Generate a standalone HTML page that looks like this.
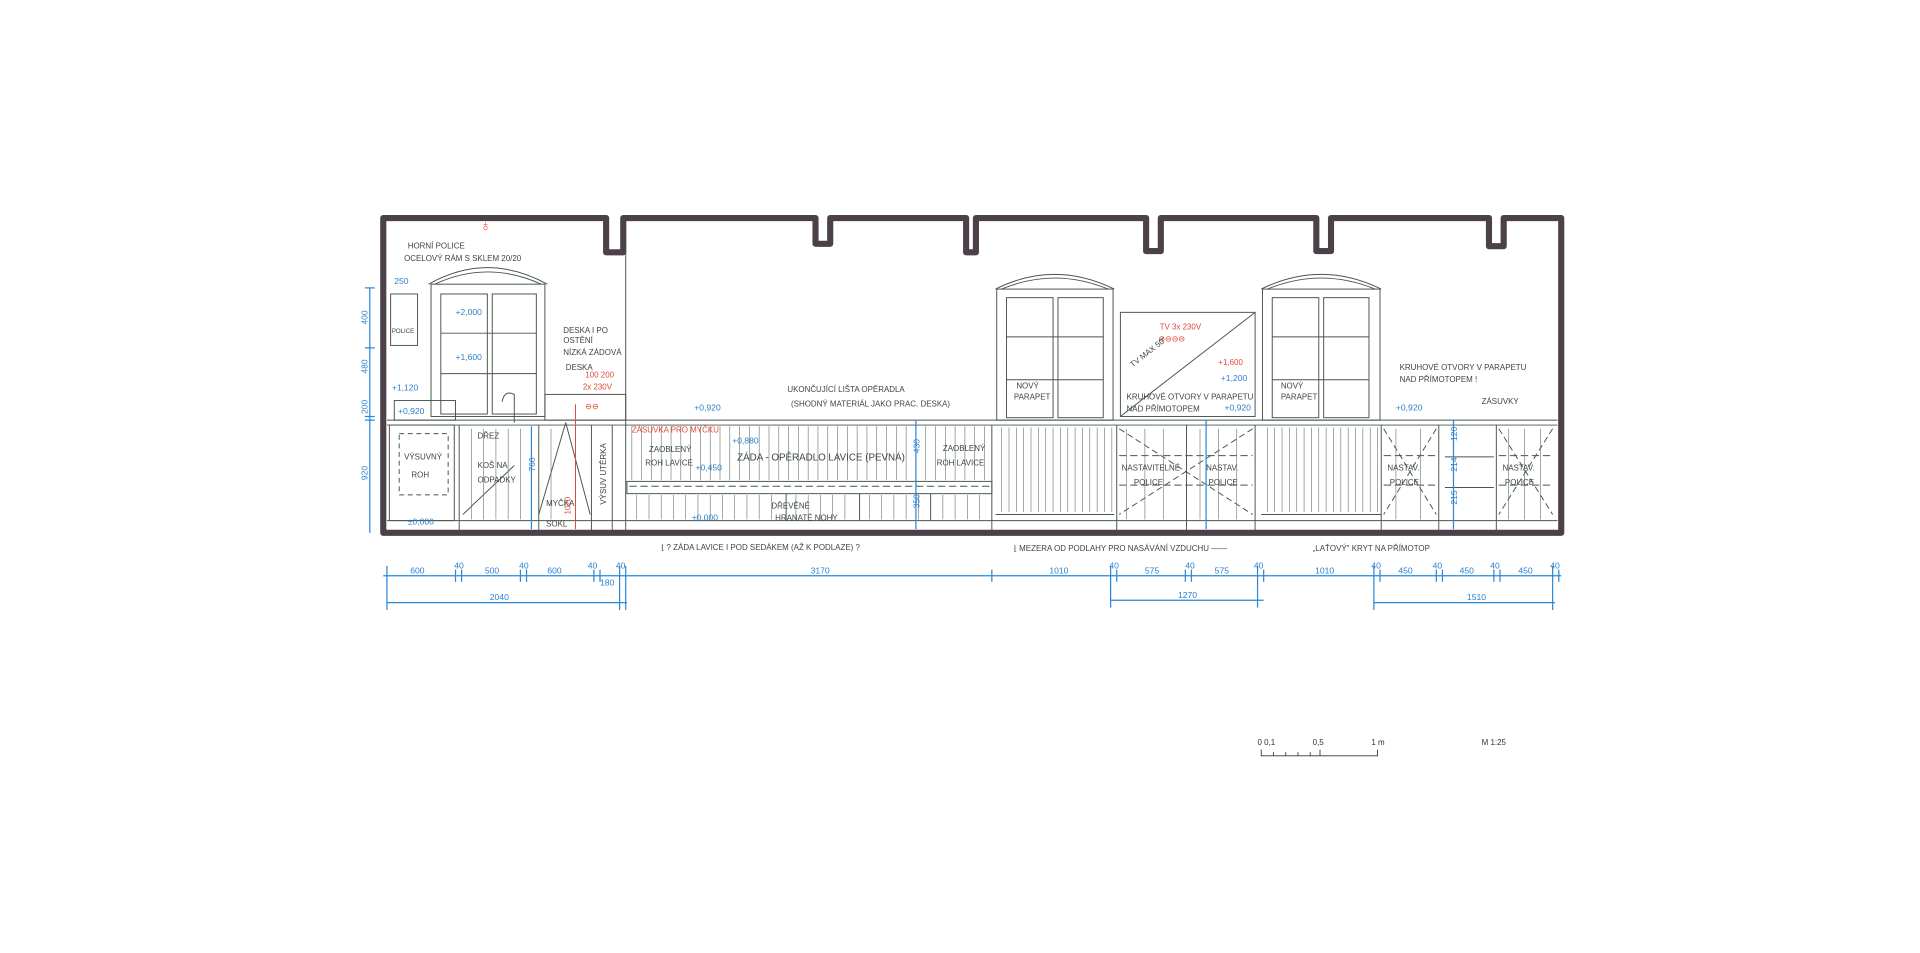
<!DOCTYPE html>
<html><head><meta charset="utf-8"><style>
html,body{margin:0;padding:0;background:#fff;width:1920px;height:953px;overflow:hidden}
svg{display:block}
text{font-family:"Liberation Sans",sans-serif}
.k{fill:#3d4640;font-size:6.5px}
.b{fill:#2a7fd0;font-size:7px}
.r{fill:#e0493a;font-size:6.5px}
</style></head><body>
<svg width="1920" height="953" viewBox="0 0 1568 778" preserveAspectRatio="none" xmlns="http://www.w3.org/2000/svg">
<!-- walls -->
<path d="M313 435 L313 178 L495 178 L495 206 L509 206 L509 178 L666 178 L666 199 L678 199 L678 178 L789 178 L789 206 L797 206 L797 178 L936 178 L936 205 L948 205 L948 178 L1075 178 L1075 205 L1087 205 L1087 178 L1216 178 L1216 201 L1228 201 L1228 178 L1275 178 L1275 435 Z" fill="none" stroke="#4c4049" stroke-width="5" stroke-linejoin="round"/>
<g stroke="#4a564e" stroke-width="0.8" fill="none">
<line x1="511" y1="205" x2="511" y2="433"/>
<!-- counter -->
<line x1="316" y1="343" x2="1272" y2="343"/>
<line x1="316" y1="347" x2="1272" y2="347"/>
<line x1="316" y1="425" x2="1272" y2="425"/>
<!-- window1 -->
<path d="M350 232 Q398 205 447 232"/><path d="M355 232 Q398 212 442 232"/>
<rect x="352" y="232" width="93" height="108"/>
<rect x="360" y="240" width="38" height="98"/><rect x="402" y="240" width="36" height="98"/>
<line x1="360" y1="272" x2="438" y2="272"/><line x1="360" y1="305" x2="438" y2="305"/>
<!-- window2 -->
<path d="M813 236 Q861 212 910 236"/><path d="M818 236 Q861 218 905 236"/>
<rect x="814" y="236" width="95" height="107"/>
<rect x="822" y="243" width="38" height="98"/><rect x="864" y="243" width="37" height="98"/>
<line x1="822" y1="275" x2="901" y2="275"/><line x1="822" y1="310" x2="901" y2="310"/>
<!-- window3 -->
<path d="M1030 236 Q1079 212 1128 236"/><path d="M1035 236 Q1079 218 1123 236"/>
<rect x="1031" y="236" width="96" height="107"/>
<rect x="1039" y="243" width="38" height="98"/><rect x="1081" y="243" width="37" height="98"/>
<line x1="1039" y1="275" x2="1118" y2="275"/><line x1="1039" y1="310" x2="1118" y2="310"/>
<!-- TV -->
<rect x="915" y="255" width="110" height="85"/><line x1="915" y1="340" x2="1025" y2="255"/>
<!-- left cabinets -->
<rect x="318" y="347" width="53" height="78"/>
<rect x="322" y="327" width="50" height="16"/>
<rect x="319" y="240" width="22" height="42"/>
<line x1="375" y1="347" x2="375" y2="433"/><line x1="440" y1="347" x2="440" y2="433"/>
<line x1="483" y1="347" x2="483" y2="433"/><line x1="500" y1="347" x2="500" y2="433"/>
<rect x="445" y="322" width="66" height="21"/>
<line x1="440" y1="420" x2="462" y2="345"/><line x1="462" y1="345" x2="482" y2="420"/>
<line x1="378" y1="420" x2="420" y2="380"/>
<rect x="326" y="354" width="40" height="50" stroke-dasharray="4 3"/>
<path d="M410 328 Q412 318 420 322 L420 345"/>
<!-- bench -->
<rect x="512" y="393" width="298" height="10"/>
<line x1="514" y1="397" x2="808" y2="397" stroke-dasharray="6 3"/>
<line x1="642" y1="403" x2="642" y2="425"/><line x1="702" y1="403" x2="702" y2="425"/><line x1="760" y1="403" x2="760" y2="425"/>
<line x1="810" y1="347" x2="810" y2="433"/>
<!-- radiators -->
<line x1="813" y1="420" x2="910" y2="420"/><line x1="1030" y1="420" x2="1128" y2="420"/>
<line x1="912" y1="347" x2="912" y2="433"/><line x1="969" y1="347" x2="969" y2="433"/><line x1="1025" y1="347" x2="1025" y2="433"/>
<line x1="914" y1="350" x2="1023" y2="420" stroke-dasharray="5 3"/><line x1="1023" y1="350" x2="914" y2="420" stroke-dasharray="5 3"/>
<line x1="1128" y1="347" x2="1128" y2="433"/><line x1="1175" y1="347" x2="1175" y2="433"/><line x1="1222" y1="347" x2="1222" y2="433"/>
<line x1="1130" y1="350" x2="1173" y2="420" stroke-dasharray="5 3"/><line x1="1173" y1="350" x2="1130" y2="420" stroke-dasharray="5 3"/>
<line x1="1268" y1="350" x2="1224" y2="420" stroke-dasharray="5 3"/><line x1="1224" y1="350" x2="1268" y2="420" stroke-dasharray="5 3"/>
<line x1="1180" y1="373" x2="1220" y2="373"/><line x1="1180" y1="398" x2="1220" y2="398"/>
<line x1="914" y1="372" x2="1023" y2="372" stroke-dasharray="6 3"/><line x1="914" y1="396" x2="1023" y2="396" stroke-dasharray="6 3"/>
<line x1="1130" y1="372" x2="1173" y2="372" stroke-dasharray="6 3"/><line x1="1130" y1="396" x2="1173" y2="396" stroke-dasharray="6 3"/>
<line x1="1224" y1="372" x2="1268" y2="372" stroke-dasharray="6 3"/><line x1="1224" y1="396" x2="1268" y2="396" stroke-dasharray="6 3"/>
</g>
<g stroke="#6a756d" stroke-width="0.5" id="sl">
<path d="M516 348V392M524 348V392M532 348V392M540 348V392M548 348V392M556 348V392M564 348V392M572 348V392M580 348V392M588 348V392M596 348V392M604 348V392M612 348V392M620 348V392M628 348V392M636 348V392M644 348V392M652 348V392M660 348V392M668 348V392M676 348V392M684 348V392M692 348V392M700 348V392M708 348V392M716 348V392M724 348V392M732 348V392M740 348V392M748 348V392M756 348V392M764 348V392M772 348V392M780 348V392M788 348V392M796 348V392M804 348V392"/>
<path d="M520 404V424M530 404V424M540 404V424M550 404V424M560 404V424M570 404V424M580 404V424M590 404V424M600 404V424M610 404V424M620 404V424M630 404V424M650 404V424M660 404V424M670 404V424M680 404V424M690 404V424M710 404V424M720 404V424M730 404V424M740 404V424M750 404V424M770 404V424M780 404V424M790 404V424M800 404V424"/>
<path d="M818 349V418M824 349V418M830 349V418M836 349V418M842 349V418M848 349V418M854 349V418M860 349V418M866 349V418M872 349V418M878 349V418M884 349V418M890 349V418M896 349V418M902 349V418M908 349V418"/>
<path d="M1035 349V418M1041 349V418M1047 349V418M1053 349V418M1059 349V418M1065 349V418M1071 349V418M1077 349V418M1083 349V418M1089 349V418M1095 349V418M1101 349V418M1107 349V418M1113 349V418M1119 349V418M1125 349V418"/>
<path d="M385 350V424M395 350V424M405 350V424M415 350V424M425 350V424M450 350V424M470 350V424M920 350V424M935 350V424M950 350V424M980 350V424M995 350V424M1010 350V424M1140 350V424M1160 350V424M1232 350V424M1245 350V424M1258 350V424"/>
</g>
<!-- blue dims -->
<g stroke="#2a88d8" stroke-width="1" fill="none">
<line x1="313" y1="470" x2="1275" y2="470"/>
<line x1="316" y1="492" x2="512" y2="492"/><line x1="907" y1="490" x2="1032" y2="490"/><line x1="1122" y1="492" x2="1270" y2="492"/>
<path d="M316 462V498M372 465V475M377 465V475M425 465V475M430 465V475M485 465V475M490 465V475M506 462V498M511 462V498M810 465V475M907 462V496M912 465V475M968 465V475M973 465V475M1027 462V496M1032 465V475M1122 462V498M1127 465V475M1173 465V475M1178 465V475M1220 465V475M1225 465V475M1268 462V498M1273 465V475"/>
<line x1="302" y1="235" x2="302" y2="435"/>
<path d="M298 235H306M298 284H306M298 340H306M298 343H306"/>
<line x1="434" y1="348" x2="434" y2="432"/><line x1="748" y1="343" x2="748" y2="432"/><line x1="985" y1="343" x2="985" y2="432"/><line x1="1187" y1="343" x2="1187" y2="432"/>
<line x1="1026" y1="1" x2="1026" y2="1"/>
</g>
<g class="b">
<text x="335" y="468">600</text><text x="371" y="464">40</text><text x="396" y="468">500</text><text x="424" y="464">40</text><text x="447" y="468">600</text><text x="480" y="464">40</text><text x="503" y="464">40</text><text x="490" y="478">180</text>
<text x="400" y="490">2040</text><text x="662" y="468">3170</text><text x="857" y="468">1010</text>
<text x="906" y="464">40</text><text x="935" y="468">575</text><text x="968" y="464">40</text><text x="992" y="468">575</text><text x="1024" y="464">40</text>
<text x="962" y="488">1270</text><text x="1074" y="468">1010</text>
<text x="1120" y="464">40</text><text x="1142" y="468">450</text><text x="1170" y="464">40</text><text x="1192" y="468">450</text><text x="1217" y="464">40</text><text x="1240" y="468">450</text><text x="1266" y="464">40</text>
<text x="1198" y="490">1510</text>
<text x="322" y="232">250</text><text x="372" y="257">+2,000</text><text x="372" y="294">+1,600</text>
<text x="320" y="319">+1,120</text><text x="325" y="338">+0,920</text><text x="333" y="428">±0,000</text>
<text x="567" y="335">+0,920</text><text x="598" y="362">+0,880</text><text x="568" y="384">+0,450</text><text x="565" y="425">±0,000</text>
<text x="997" y="311">+1,200</text><text x="1000" y="335">+0,920</text><text x="1140" y="335">+0,920</text>
<text transform="translate(300,265) rotate(-90)">400</text><text transform="translate(300,305) rotate(-90)">480</text><text transform="translate(300,338) rotate(-90)">200</text><text transform="translate(300,392) rotate(-90)">920</text>
<text transform="translate(437,385) rotate(-90)">760</text><text transform="translate(751,415) rotate(-90)">350</text><text transform="translate(751,370) rotate(-90)">430</text>
<text transform="translate(1190,360) rotate(-90)">120</text><text transform="translate(1190,385) rotate(-90)">214</text><text transform="translate(1190,412) rotate(-90)">215</text>
</g>
<g class="r">
<text x="392" y="188" font-size="12">♁</text>
<text x="516" y="353">ZÁSUVKA PRO MYČKU</text><text x="478" y="308">100 200</text><text x="476" y="318">2x 230V</text>
<text x="478" y="334">⊖⊖</text>
<text x="947" y="269">TV   3x 230V</text><text x="946" y="279">⊖⊖⊖⊖</text><text x="995" y="298">+1,600</text>
<text transform="translate(466,420) rotate(-90)">1020</text>
</g>
<line x1="470" y1="330" x2="470" y2="432" stroke="#e0493a" stroke-width="0.8"/>
<g class="k">
<text x="333" y="203">HORNÍ POLICE</text><text x="330" y="213">OCELOVÝ RÁM S SKLEM 20/20</text>
<text x="320" y="272" font-size="5">POLICE</text>
<text x="460" y="272">DESKA I PO</text><text x="460" y="280">OSTĚNÍ</text><text x="460" y="290">NÍZKÁ ZÁDOVÁ</text><text x="462" y="302">DESKA</text>
<text x="390" y="358">DŘEZ</text><text x="330" y="375">VÝSUVNÝ</text><text x="336" y="390">ROH</text><text x="390" y="382">KOŠ NA</text><text x="390" y="394">ODPADKY</text>
<text x="446" y="413">MYČKA</text><text x="446" y="430">SOKL</text>
<text transform="translate(495,412) rotate(-90)">VÝSUV UTĚRKA</text>
<text x="530" y="369">ZAOBLENÝ</text><text x="527" y="380">ROH LAVICE</text>
<text x="602" y="376" font-size="8">ZÁDA - OPĚRADLO LAVICE (PEVNÁ)</text>
<text x="770" y="368">ZAOBLENÝ</text><text x="765" y="380">ROH LAVICE</text>
<text x="630" y="415">DŘEVĚNÉ</text><text x="633" y="425">HRANATÉ NOHY</text>
<text x="643" y="320">UKONČUJÍCÍ LIŠTA OPĚRADLA</text><text x="646" y="332">(SHODNÝ MATERIÁL JAKO PRAC. DESKA)</text>
<text x="540" y="449">⌊ ? ZÁDA LAVICE I POD SEDÁKEM (AŽ K PODLAZE) ?</text>
<text x="830" y="317">NOVÝ</text><text x="828" y="326">PARAPET</text><text x="1046" y="317">NOVÝ</text><text x="1046" y="326">PARAPET</text>
<text x="920" y="326">KRUHOVÉ OTVORY V PARAPETU</text><text x="920" y="336">NAD PŘÍMOTOPEM</text>
<text x="1143" y="302">KRUHOVÉ OTVORY V PARAPETU</text><text x="1143" y="312">NAD PŘÍMOTOPEM !</text>
<text x="1210" y="330">ZÁSUVKY</text>
<text transform="translate(925,300) rotate(-38)">TV  MAX 50"</text>
<text x="916" y="384">NASTAVITELNÉ</text><text x="926" y="396">POLICE</text><text x="985" y="384">NASTAV.</text><text x="987" y="396">POLICE</text>
<text x="1133" y="384">NASTAV.</text><text x="1135" y="396">POLICE</text><text x="1227" y="384">NASTAV.</text><text x="1229" y="396">POLICE</text>
<text x="828" y="450">⌊ MEZERA OD PODLAHY PRO NASÁVÁNÍ VZDUCHU ——</text>
<text x="1072" y="450">„LAŤOVÝ" KRYT NA PŘÍMOTOP</text>
</g>
<!-- scale bar -->
<g stroke="#333" stroke-width="0.7" fill="none">
<path d="M1030 612V617H1125V612M1040 614V617M1050 614V617M1060 614V617M1070 614V617M1078 612V617"/>
</g>
<g fill="#333" font-size="6.5">
<text x="1027" y="608">0 0,1</text><text x="1072" y="608">0,5</text><text x="1120" y="608">1 m</text><text x="1210" y="608">M 1:25</text>
</g>
</svg>
</body></html>
